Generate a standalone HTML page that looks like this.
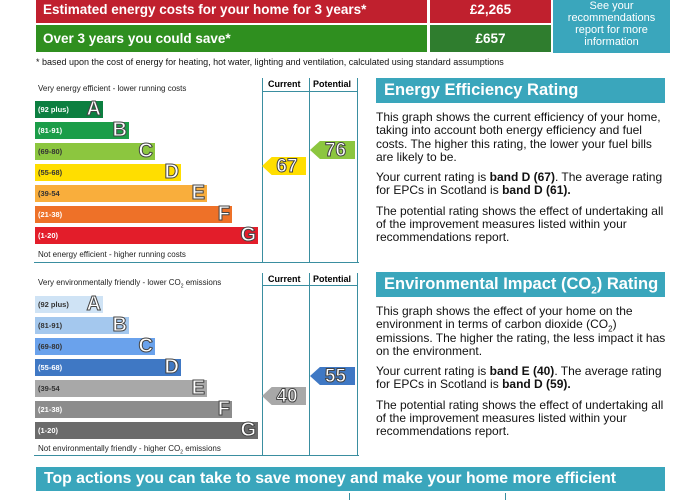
<!DOCTYPE html><html><head><style>
body{margin:0;width:700px;height:500px;background:#fff;position:relative;overflow:hidden;font-family:"Liberation Sans",sans-serif}
.a{position:absolute}
.bar{position:absolute;left:35px;height:17px;font-size:7.5px;color:#fff;font-weight:bold;line-height:17px;padding-left:3px;box-sizing:border-box}
.bar b{position:absolute;right:2px;top:-2px;font-size:20px;line-height:21px;color:#fff;-webkit-text-stroke:1px #444;font-weight:bold}
.hd{position:absolute;background:#3aa6bc;color:#fff;font-weight:bold;font-size:16.5px;padding-left:8px;box-sizing:border-box}
.tx{position:absolute;left:376px;width:292px;font-size:12px;line-height:13.3px;color:#111}
.tx p{margin:0 0 7px}
.col{position:absolute;border-left:1.5px solid #3a8ea0;border-right:1.5px solid #3a8ea0;}
.arr{position:absolute;height:18px;font-size:19px;font-weight:bold;color:#fff;-webkit-text-stroke:1px #444;text-align:center;line-height:19px;clip-path:polygon(0 50%,22% 0,100% 0,100% 100%,22% 100%)}
</style></head><body>
<div class="a" style="left:36px;top:0;width:391px;height:23px;background:#c0202e;color:#fff;font-weight:bold;font-size:13.5px;line-height:20px;padding-left:7px;box-sizing:border-box">Estimated energy costs for your home for 3 years*</div>
<div class="a" style="left:430px;top:0;width:121px;height:23px;background:#c0202e;color:#fff;font-weight:bold;font-size:13.5px;line-height:20px;text-align:center">£2,265</div>
<div class="a" style="left:36px;top:25px;width:391px;height:27px;background:#2f8f1f;color:#fff;font-weight:bold;font-size:13.5px;line-height:27px;padding-left:7px;box-sizing:border-box">Over 3 years you could save*</div>
<div class="a" style="left:430px;top:25px;width:121px;height:27px;background:#2f7d2e;color:#fff;font-weight:bold;font-size:13.5px;line-height:27px;text-align:center">£657</div>
<div class="a" style="left:553px;top:0;width:117px;height:53px;background:#3aa6bc;color:#fff;font-size:11px;line-height:12px;text-align:center;padding-top:0">See your<br>recommendations<br>report for more<br>information</div>
<div class="a" style="left:36px;top:57px;font-size:9px;color:#111">* based upon the cost of energy for heating, hot water, lighting and ventilation, calculated using standard assumptions</div>

<!-- chart 1 -->
<div class="a" style="left:34px;top:262px;width:325px;border-top:1px solid #3a8ea0"></div>
<div class="col" style="left:262px;top:78px;width:46px;height:184px"></div>
<div class="col" style="left:308px;top:78px;width:49px;height:184px;border-left:none"></div>
<div class="a" style="left:262px;top:91px;width:96px;border-top:1.5px solid #3a8ea0"></div>
<div class="a" style="left:268px;top:79px;font-size:9px;font-weight:bold">Current</div>
<div class="a" style="left:313px;top:79px;font-size:9px;font-weight:bold">Potential</div>
<div class="a" style="left:38px;top:84px;font-size:8px;color:#222">Very energy efficient - lower running costs</div>
<div class="bar" style="top:101px;width:68px;background:#0c7f40">(92 plus)<b>A</b></div>
<div class="bar" style="top:122px;width:94px;background:#1b9d48">(81-91)<b>B</b></div>
<div class="bar" style="top:143px;width:120px;background:#8cc63f;color:#333">(69-80)<b>C</b></div>
<div class="bar" style="top:164px;width:146px;background:#ffde00;color:#333">(55-68)<b>D</b></div>
<div class="bar" style="top:185px;width:172px;background:#f9ae3c;color:#333">(39-54<b>E</b></div>
<div class="bar" style="top:206px;width:197px;background:#ee7128">(21-38)<b>F</b></div>
<div class="bar" style="top:227px;width:223px;background:#e31d2a">(1-20)<b>G</b></div>
<div class="a" style="left:38px;top:250px;font-size:8px;color:#222">Not energy efficient - higher running costs</div>
<div class="arr" style="left:262px;top:157px;width:44px;background:#ffde00;padding-left:6px;box-sizing:border-box">67</div>
<div class="arr" style="left:310px;top:141px;width:45px;background:#8cc63f;padding-left:6px;box-sizing:border-box">76</div>

<!-- chart 2 -->
<div class="a" style="left:34px;top:455px;width:325px;border-top:1px solid #3a8ea0"></div>
<div class="col" style="left:262px;top:273px;width:46px;height:182px"></div>
<div class="col" style="left:308px;top:273px;width:49px;height:182px;border-left:none"></div>
<div class="a" style="left:262px;top:285px;width:96px;border-top:1.5px solid #3a8ea0"></div>
<div class="a" style="left:268px;top:274px;font-size:9px;font-weight:bold">Current</div>
<div class="a" style="left:313px;top:274px;font-size:9px;font-weight:bold">Potential</div>
<div class="a" style="left:38px;top:278px;font-size:8px;color:#222">Very environmentally friendly - lower CO<sub style="font-size:5px">2</sub> emissions</div>
<div class="bar" style="top:296px;width:68px;background:#cfe3f5;color:#333">(92 plus)<b>A</b></div>
<div class="bar" style="top:317px;width:94px;background:#a4c8ee;color:#333">(81-91)<b>B</b></div>
<div class="bar" style="top:338px;width:120px;background:#6aa2ec;color:#333">(69-80)<b>C</b></div>
<div class="bar" style="top:359px;width:146px;background:#3f78c4;color:#fff">(55-68)<b>D</b></div>
<div class="bar" style="top:380px;width:172px;background:#a8a8a8;color:#333">(39-54<b>E</b></div>
<div class="bar" style="top:401px;width:197px;background:#8c8c8c">(21-38)<b>F</b></div>
<div class="bar" style="top:422px;width:223px;background:#6b6b6b">(1-20)<b>G</b></div>
<div class="a" style="left:38px;top:444px;font-size:8px;color:#222">Not environmentally friendly - higher CO<sub style="font-size:5px">2</sub> emissions</div>
<div class="arr" style="left:262px;top:387px;width:44px;background:#a8a8a8;padding-left:6px;box-sizing:border-box">40</div>
<div class="arr" style="left:310px;top:367px;width:45px;background:#3f78c4;padding-left:6px;box-sizing:border-box">55</div>

<!-- right text -->
<div class="hd" style="left:376px;top:78px;width:289px;height:25px;line-height:25px">Energy Efficiency Rating</div>
<div class="tx" style="top:111px">
<p>This graph shows the current efficiency of your home, taking into account both energy efficiency and fuel costs. The higher this rating, the lower your fuel bills are likely to be.</p>
<p>Your current rating is <b>band D (67)</b>. The average rating for EPCs in Scotland is <b>band D (61).</b></p>
<p>The potential rating shows the effect of undertaking all of the improvement measures listed within your recommendations report.</p></div>
<div class="hd" style="left:376px;top:272px;width:289px;height:25px;line-height:25px">Environmental Impact (CO<sub style="font-size:10px">2</sub>) Rating</div>
<div class="tx" style="top:305px">
<p>This graph shows the effect of your home on the environment in terms of carbon dioxide (CO<sub style="font-size:8px;line-height:0">2</sub>) emissions. The higher the rating, the less impact it has on the environment.</p>
<p>Your current rating is <b>band E (40)</b>. The average rating for EPCs in Scotland is <b>band D (59).</b></p>
<p>The potential rating shows the effect of undertaking all of the improvement measures listed within your recommendations report.</p></div>

<div class="hd" style="left:36px;top:467px;width:629px;height:24px;line-height:24px;font-size:15.8px">Top actions you can take to save money and make your home more efficient</div>
<div class="a" style="left:349px;top:493px;height:7px;border-left:1px solid #3a8ea0"></div>
<div class="a" style="left:505px;top:493px;height:7px;border-left:1px solid #3a8ea0"></div>
</body></html>
